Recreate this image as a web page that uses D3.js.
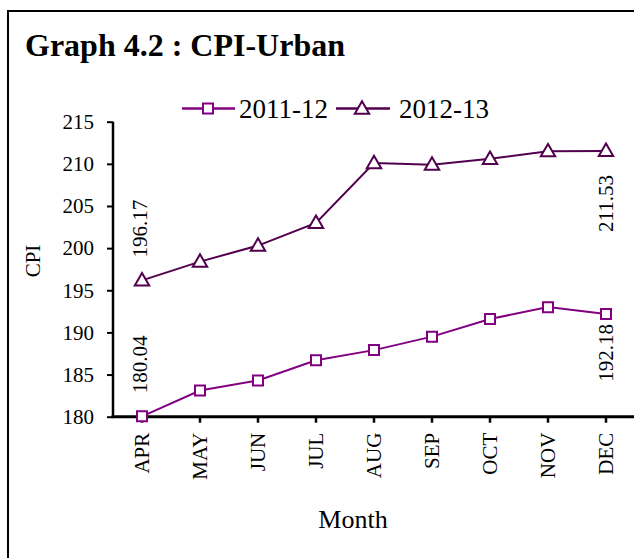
<!DOCTYPE html>
<html>
<head>
<meta charset="utf-8">
<script src="https://cdn.jsdelivr.net/npm/d3@7"></script>
<style>
  html, body { margin: 0; padding: 0; background: #fff; }
  svg { display: block; font-family: "Liberation Serif", "Times New Roman", serif; }
</style>
</head>
<body>
<svg id="chart" width="634" height="558"></svg>
<script>
const months = ["APR","MAY","JUN","JUL","AUG","SEP","OCT","NOV","DEC"];
const series2011 = [180.04, 183.1, 184.3, 186.7, 187.9, 189.5, 191.6, 193.0, 192.18];
const series2012 = [196.17, 198.4, 200.3, 203.0, 210.1, 209.9, 210.6, 211.5, 211.53];
const seriesNames = ["2011-12", "2012-13"];
const yTicks = [180, 185, 190, 195, 200, 205, 210, 215];
const title = "Graph 4.2 : CPI-Urban";

const colors = ["#800080", "#52004e"];

const svg = d3.select("#chart");

// outer frame (clipped on right and bottom)
svg.append("rect")
  .attr("x", 8).attr("y", 11)
  .attr("width", 700).attr("height", 700)
  .attr("fill", "none").attr("stroke", "#000").attr("stroke-width", 2);

svg.append("text")
  .attr("x", 25).attr("y", 56)
  .attr("font-size", 32).attr("font-weight", "bold")
  .text(title);

const x = d3.scaleBand().domain(months).range([113, 635]).paddingInner(0).paddingOuter(0);
const y = d3.scaleLinear().domain([180, 215]).range([416.7, 121.7]);
const cx = m => x(m) + x.bandwidth() / 2;

// y axis
const yAxis = svg.append("g").attr("transform", "translate(113,0)")
  .call(d3.axisLeft(y).tickValues(yTicks).tickSize(6).tickPadding(13).tickFormat(d3.format("d")));
yAxis.select(".domain").attr("stroke-width", 2.5).attr("d", `M0,${y(215)}V${y(180)}`);
yAxis.selectAll(".tick line").attr("stroke-width", 2);
yAxis.selectAll(".tick text").attr("font-size", 21).attr("font-family", "Liberation Serif").attr("fill", "#000");

// x axis
const xAxis = svg.append("g").attr("transform", `translate(0,${y(180)})`)
  .call(d3.axisBottom(x).tickSize(6).tickPadding(0));
xAxis.select(".domain").attr("stroke-width", 3).attr("d", "M111.5,0H635");
xAxis.selectAll(".tick line").attr("stroke-width", 2.5);
xAxis.selectAll(".tick text")
  .attr("font-size", 21).attr("font-family", "Liberation Serif").attr("fill", "#000")
  .attr("text-anchor", "end")
  .attr("transform", "rotate(-90)")
  .attr("x", -16).attr("y", 0).attr("dy", "0.35em");

// axis titles
svg.append("text")
  .attr("transform", "translate(40,261) rotate(-90)")
  .attr("text-anchor", "middle").attr("font-size", 21).text("CPI");
svg.append("text")
  .attr("x", 353).attr("y", 528)
  .attr("text-anchor", "middle").attr("font-size", 26).text("Month");

// lines
const line = d3.line().x((d, i) => cx(months[i])).y(d => y(d));
const allSeries = [series2011, series2012];
allSeries.forEach((s, k) => {
  svg.append("path").datum(s)
    .attr("d", line).attr("fill", "none")
    .attr("stroke", colors[k]).attr("stroke-width", 2);
});

const sq = d3.symbol().type(d3.symbolSquare).size(100);
const tri = d3.symbol().type(d3.symbolTriangle).size(90);

svg.append("g").selectAll("path").data(series2011).join("path")
  .attr("d", sq)
  .attr("transform", (d, i) => `translate(${cx(months[i])},${y(d)})`)
  .attr("fill", "#fff").attr("stroke", colors[0]).attr("stroke-width", 2);

svg.append("g").selectAll("path").data(series2012).join("path")
  .attr("d", tri)
  .attr("transform", (d, i) => `translate(${cx(months[i])},${y(d) + 1})`)
  .attr("fill", "#fff").attr("stroke", colors[1]).attr("stroke-width", 2);

// data labels (first & last)
function rotLabel(px, py, txt, anchor) {
  svg.append("text")
    .attr("transform", `translate(${px},${py}) rotate(-90)`)
    .attr("text-anchor", anchor).attr("dy", "0.35em")
    .attr("font-size", 21).text(txt);
}
const first = 0, last = months.length - 1;
rotLabel(cx(months[first]) - 2, y(series2012[first]) - 23, series2012[first].toFixed(2), "start");
rotLabel(cx(months[first]) - 2, y(series2011[first]) - 23, series2011[first].toFixed(2), "start");
rotLabel(cx(months[last]), y(series2012[last]) + 24, series2012[last].toFixed(2), "end");
rotLabel(cx(months[last]), y(series2011[last]) + 10, series2011[last].toFixed(2), "end");

// legend
const legend = svg.append("g");
const legItems = [
  { x0: 182, x1: 235, mx: 208, tx: 239, sym: sq },
  { x0: 336, x1: 390, mx: 362, tx: 399, sym: tri }
];
legItems.forEach((it, k) => {
  legend.append("line").attr("x1", it.x0).attr("x2", it.x1).attr("y1", 108.5).attr("y2", 108.5)
    .attr("stroke", colors[k]).attr("stroke-width", 2.5);
  legend.append("path").attr("d", it.sym).attr("transform", `translate(${it.mx},${108.5 + (k ? 1 : 0)})`)
    .attr("fill", "#fff").attr("stroke", colors[k]).attr("stroke-width", 2);
  legend.append("text").attr("x", it.tx).attr("y", 118).attr("font-size", 27).text(seriesNames[k]);
});
</script>
</body>
</html>
